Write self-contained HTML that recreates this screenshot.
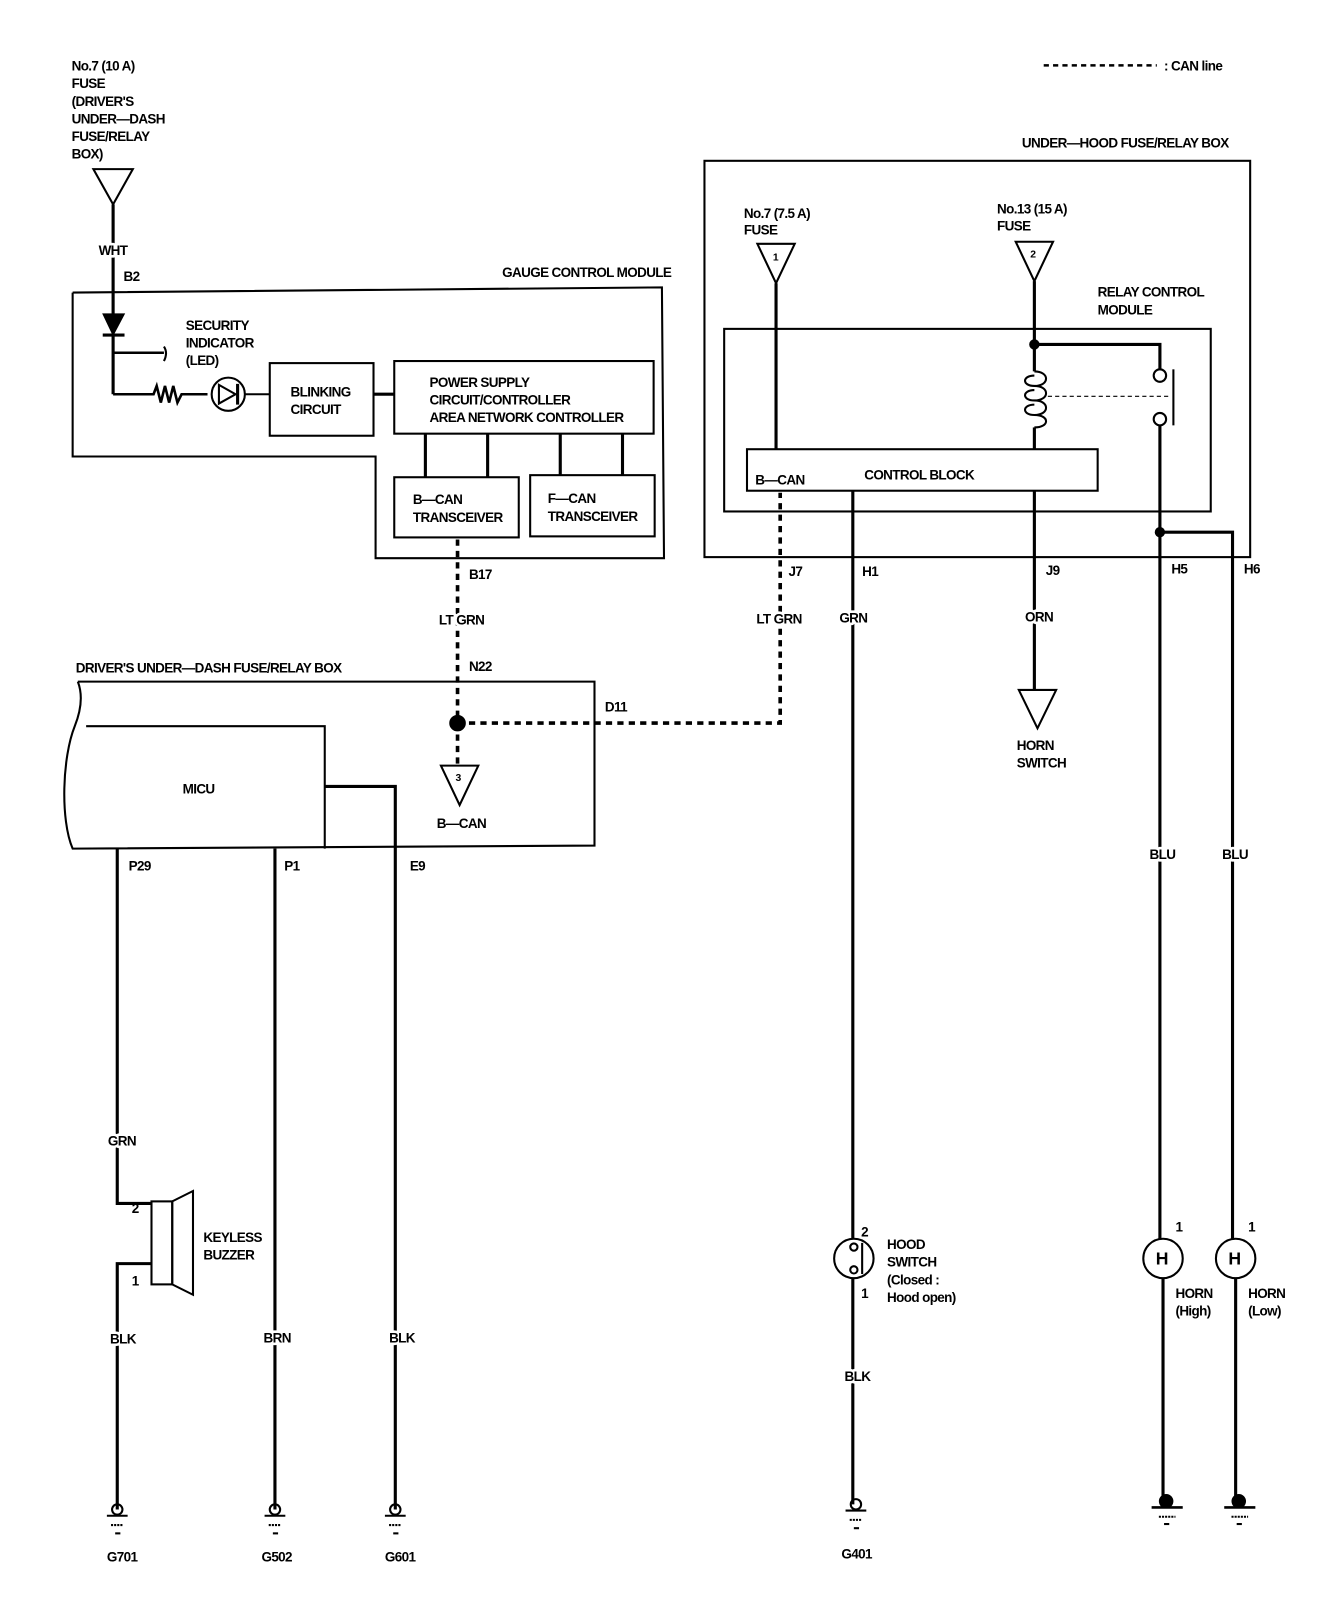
<!DOCTYPE html>
<html><head><meta charset="utf-8"><style>
html,body{margin:0;padding:0;background:#fff;}
svg{display:block;}
text{font-family:"Liberation Sans Narrow","Liberation Sans",sans-serif;font-weight:bold;font-size:13px;fill:#000;letter-spacing:-0.6px;}
text.l{stroke:#fff;stroke-width:5px;paint-order:stroke;stroke-linejoin:round;}
</style></head><body>
<svg width="1328" height="1620" viewBox="0 0 1280 1561.5" xmlns="http://www.w3.org/2000/svg">
<g fill="none" stroke="#000" stroke-width="2">
<polygon points="90,163 128,163 109,197"/>
<line x1="109" y1="197" x2="109" y2="303" stroke-width="3"/>
<polyline points="70,282 638,277 640,538 362,538 362,440 70,440 70,282"/>
<polygon points="100,303 119,303 109,322" fill="#000"/>
<line x1="99" y1="323" x2="120" y2="323" stroke-width="3"/>
<line x1="109" y1="323" x2="109" y2="380" stroke-width="3"/>
<line x1="109" y1="340" x2="158" y2="340" stroke-width="2.5"/>
<path d="M158,334 Q162,340 158,348"/>
<polyline points="109,380 148,380 151,372 155,388 159,372 163,388 167,372 171,388 175,380 200,380" stroke-width="2.5"/>
<circle cx="220" cy="380" r="16"/>
<polygon points="211,371 211,389 227,380"/>
<line x1="229" y1="370" x2="229" y2="390" stroke-width="3"/>
<line x1="236" y1="380" x2="260" y2="380"/>
<rect x="260" y="350" width="100" height="70"/>
<line x1="360" y1="380" x2="380" y2="380" stroke-width="3"/>
<rect x="380" y="348" width="250" height="70"/>
<g stroke-width="3"><line x1="410" y1="418" x2="410" y2="460"/><line x1="470" y1="418" x2="470" y2="460"/><line x1="540" y1="418" x2="540" y2="458"/><line x1="600" y1="418" x2="600" y2="458"/></g>
<rect x="380" y="460" width="120" height="58"/>
<rect x="511" y="458" width="120" height="59"/>
<g stroke-width="3.5" stroke-dasharray="6,5">
<line x1="441" y1="520" x2="441" y2="697"/>
<line x1="441" y1="697" x2="441" y2="738"/>
<polyline points="441,697 752,697 752,475"/>
<line x1="1006" y1="63" x2="1115" y2="63" stroke-width="2.5" stroke-dasharray="5,4"/>
</g>
<circle cx="441" cy="697" r="7" fill="#000"/>
<path d="M75,657 L573,657 L573,815 L70,818 C58,790 60,730 72,700 C78,685 80,670 75,657"/>
<path d="M83,700 L313,700 L313,818"/>
<polyline points="313,758 381,758 381,1455" stroke-width="3"/>
<polygon points="425,738 461,738 443,776"/>
<polyline points="113,818 113,1160 146,1160" stroke-width="3"/>
<polyline points="146,1218 113,1218 113,1455" stroke-width="3"/>
<rect x="146" y="1158" width="20" height="80"/>
<polygon points="166,1158 186,1148 186,1248 166,1238"/>
<line x1="265" y1="818" x2="265" y2="1455" stroke-width="3"/>
<g stroke-width="2">
<circle cx="113" cy="1455" r="5"/><line x1="103" y1="1461" x2="123" y2="1461"/><line x1="107" y1="1470" x2="119" y2="1470" stroke-dasharray="2,1"/><line x1="111" y1="1478" x2="116" y2="1478"/>
<circle cx="265" cy="1455" r="5"/><line x1="255" y1="1461" x2="275" y2="1461"/><line x1="259" y1="1470" x2="271" y2="1470" stroke-dasharray="2,1"/><line x1="263" y1="1478" x2="268" y2="1478"/>
<circle cx="381" cy="1455" r="5"/><line x1="371" y1="1461" x2="391" y2="1461"/><line x1="375" y1="1470" x2="387" y2="1470" stroke-dasharray="2,1"/><line x1="379" y1="1478" x2="384" y2="1478"/>
<circle cx="825" cy="1450" r="5"/><line x1="815" y1="1456" x2="835" y2="1456"/><line x1="819" y1="1465" x2="831" y2="1465" stroke-dasharray="2,1"/><line x1="823" y1="1473" x2="828" y2="1473"/>
</g>
<rect x="679" y="155" width="526" height="382"/>
<polygon points="730,235 766,235 748,273"/>
<line x1="748" y1="273" x2="748" y2="433" stroke-width="3"/>
<polygon points="979,233 1015,233 997,271"/>
<line x1="997" y1="271" x2="997" y2="358" stroke-width="3"/>
<polyline points="997,332 1118,332 1118,356" stroke-width="3"/>
<circle cx="997" cy="332" r="4" fill="#000"/>
<path d="M997,358 C1012,358 1012,372 997,372 C985,372 985,362 997,362 M997,372 C1012,372 1012,386 997,386 C985,386 985,376 997,376 M997,386 C1012,386 1012,400 997,400 C985,400 985,390 997,390 M997,400 C1012,400 1012,412 997,412"/>
<line x1="997" y1="412" x2="997" y2="433" stroke-width="3"/>
<rect x="698" y="317" width="469" height="176"/>
<circle cx="1118" cy="362" r="6"/>
<circle cx="1118" cy="404" r="6"/>
<line x1="1131" y1="356" x2="1131" y2="410"/>
<line x1="1010" y1="382" x2="1128" y2="382" stroke-width="1" stroke-dasharray="4,3"/>
<line x1="1118" y1="410" x2="1118" y2="1195" stroke-width="3"/>
<polyline points="1118,513 1188,513 1188,1195" stroke-width="3"/>
<circle cx="1118" cy="513" r="4" fill="#000"/>
<rect x="720" y="433" width="338" height="40"/>
<line x1="822" y1="473" x2="822" y2="1194" stroke-width="3"/>
<line x1="822" y1="1232" x2="822" y2="1450" stroke-width="3"/>
<circle cx="823" cy="1213" r="19"/>
<circle cx="823" cy="1202" r="3.5"/><circle cx="823" cy="1224" r="3.5"/>
<line x1="831" y1="1198" x2="831" y2="1228"/>
<line x1="997" y1="473" x2="997" y2="665" stroke-width="3"/>
<polygon points="982,665 1018,665 1000,702"/>
<circle cx="1121" cy="1213" r="19"/>
<circle cx="1191" cy="1213" r="19"/>
<line x1="1121" y1="1232" x2="1121" y2="1447" stroke-width="3"/>
<line x1="1191" y1="1232" x2="1191" y2="1447" stroke-width="3"/>
<circle cx="1124" cy="1447" r="6" fill="#000"/><line x1="1110" y1="1453" x2="1140" y2="1453" stroke-width="2.5"/><line x1="1117" y1="1462" x2="1133" y2="1462" stroke-dasharray="2,1"/><line x1="1122" y1="1469" x2="1127" y2="1469"/>
<circle cx="1194" cy="1447" r="6" fill="#000"/><line x1="1180" y1="1453" x2="1210" y2="1453" stroke-width="2.5"/><line x1="1187" y1="1462" x2="1203" y2="1462" stroke-dasharray="2,1"/><line x1="1192" y1="1469" x2="1197" y2="1469"/>
</g>
<text x="69" y="68">No.7 (10 A)</text>
<text x="69" y="85">FUSE</text>
<text x="69" y="102">(DRIVER'S</text>
<text x="69" y="119">UNDER—DASH</text>
<text x="69" y="136">FUSE/RELAY</text>
<text x="69" y="153">BOX)</text>
<text class="l" x="95" y="246">WHT</text>
<text x="119" y="271">B2</text>
<text x="484" y="267">GAUGE CONTROL MODULE</text>
<text x="179" y="318">SECURITY</text>
<text x="179" y="335">INDICATOR</text>
<text x="179" y="352">(LED)</text>
<text x="280" y="382">BLINKING</text>
<text x="280" y="399">CIRCUIT</text>
<text x="414" y="373">POWER SUPPLY</text>
<text x="414" y="390">CIRCUIT/CONTROLLER</text>
<text x="414" y="407">AREA NETWORK CONTROLLER</text>
<text x="398" y="486">B—CAN</text>
<text x="398" y="503">TRANSCEIVER</text>
<text x="528" y="485">F—CAN</text>
<text x="528" y="502">TRANSCEIVER</text>
<text x="452" y="558">B17</text>
<text class="l" x="423" y="602">LT GRN</text>
<text x="452" y="647">N22</text>
<text x="73" y="648">DRIVER'S UNDER—DASH FUSE/RELAY BOX</text>
<text x="583" y="686">D11</text>
<text x="176" y="765">MICU</text>
<text x="439" y="753" style="font-size:10px">3</text>
<text x="421" y="798">B—CAN</text>
<text x="124" y="839">P29</text>
<text x="274" y="839">P1</text>
<text x="395" y="839">E9</text>
<text class="l" x="104" y="1104">GRN</text>
<text x="127" y="1169">2</text>
<text x="127" y="1239">1</text>
<text x="196" y="1197">KEYLESS</text>
<text x="196" y="1214">BUZZER</text>
<text class="l" x="106" y="1295">BLK</text>
<text class="l" x="254" y="1294">BRN</text>
<text class="l" x="375" y="1294">BLK</text>
<text x="103" y="1505">G701</text>
<text x="252" y="1505">G502</text>
<text x="371" y="1505">G601</text>
<text x="1122" y="68">: CAN line</text>
<text x="985" y="142">UNDER—HOOD FUSE/RELAY BOX</text>
<text x="717" y="210">No.7 (7.5 A)</text>
<text x="717" y="226">FUSE</text>
<text x="745" y="251" style="font-size:10px">1</text>
<text x="961" y="206">No.13 (15 A)</text>
<text x="961" y="222">FUSE</text>
<text x="993" y="248" style="font-size:10px">2</text>
<text x="1058" y="286">RELAY CONTROL</text>
<text x="1058" y="303">MODULE</text>
<text x="728" y="467">B—CAN</text>
<text x="833" y="462">CONTROL BLOCK</text>
<text x="760" y="555">J7</text>
<text x="831" y="555">H1</text>
<text x="1008" y="554">J9</text>
<text x="1129" y="553">H5</text>
<text x="1199" y="553">H6</text>
<text class="l" x="729" y="601">LT GRN</text>
<text class="l" x="809" y="600">GRN</text>
<text class="l" x="988" y="599">ORN</text>
<text x="980" y="723">HORN</text>
<text x="980" y="740">SWITCH</text>
<text class="l" x="1108" y="828">BLU</text>
<text class="l" x="1178" y="828">BLU</text>
<text x="830" y="1192">2</text>
<text x="830" y="1251">1</text>
<text x="855" y="1204">HOOD</text>
<text x="855" y="1221">SWITCH</text>
<text x="855" y="1238">(Closed :</text>
<text x="855" y="1255">Hood open)</text>
<text class="l" x="814" y="1331">BLK</text>
<text x="811" y="1502">G401</text>
<text x="1133" y="1187">1</text>
<text x="1203" y="1187">1</text>
<text x="1114" y="1219" style="font-size:17px">H</text>
<text x="1184" y="1219" style="font-size:17px">H</text>
<text x="1133" y="1251">HORN</text>
<text x="1133" y="1268">(High)</text>
<text x="1203" y="1251">HORN</text>
<text x="1203" y="1268">(Low)</text>
</svg>
</body></html>
